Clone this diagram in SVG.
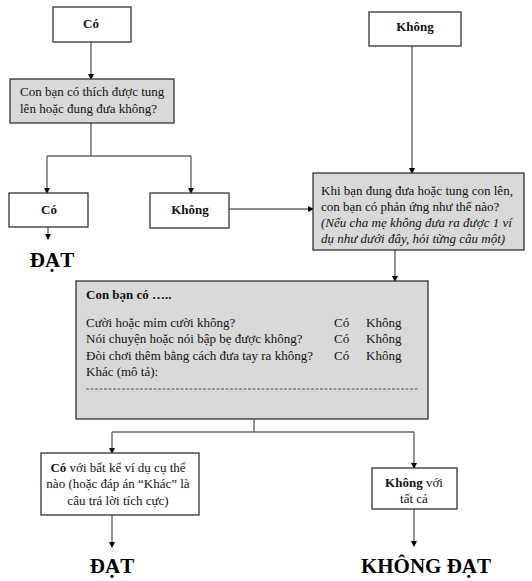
<svg xmlns="http://www.w3.org/2000/svg" width="532" height="581" viewBox="0 0 532 581">
<defs>
<marker id="ah" markerWidth="6" markerHeight="6" refX="5" refY="3" orient="auto" markerUnits="userSpaceOnUse">
<path d="M0,0 L6,3 L0,6 Z" fill="#000"/>
</marker>
<style>
.box{fill:#fff;stroke:#333;stroke-width:1.3}
.gbox{fill:#d9d9d9;stroke:#333;stroke-width:1.3}
.t{font-family:"Liberation Serif","Times New Roman",serif;font-size:13px;fill:#111}
.b{font-weight:bold}
.big{font-family:"Liberation Serif","Times New Roman",serif;font-size:21px;font-weight:bold;fill:#000}
.c{text-anchor:middle}
.ln{fill:none;stroke:#666;stroke-width:1.4}
.ar{marker-end:url(#ah)}
</style>
</defs>
<rect width="532" height="581" fill="#fff"/>
<g id="connectors">
<path class="ln ar" d="M91,42 V79"/>
<path class="ln" d="M91,123 V156 M47,156 H191"/>
<path class="ln ar" d="M47,156 V193"/>
<path class="ln ar" d="M191,156 V193"/>
<path class="ln ar" d="M48,227 V239"/>
<path class="ln ar" d="M229,209 H313"/>
<path class="ln ar" d="M412,46 V173"/>
<path class="ln ar" d="M395,250 V281"/>
<path class="ln" d="M254,419 V432 M112,432 H414"/>
<path class="ln ar" d="M112,432 V453"/>
<path class="ln ar" d="M414,432 V468"/>
<path class="ln ar" d="M112,515 V547"/>
<path class="ln ar" d="M414,509 V546"/>
</g>
<g id="n-co-top">
<rect class="box" x="53" y="7" width="78" height="35"/>
<text class="t b c" x="91" y="28">Có</text>
</g>
<g id="n-khong-top">
<rect class="box" x="369" y="12" width="92" height="34"/>
<text class="t b c" x="415" y="31">Không</text>
</g>
<g id="n-q1">
<rect class="gbox" x="10" y="79" width="164" height="44"/>
<text class="t" x="20" y="96">Con bạn có thích được tung</text>
<text class="t" x="20" y="113">lên hoặc đung đưa không?</text>
</g>
<g id="n-co2">
<rect class="box" x="9" y="193" width="79" height="34"/>
<text class="t b c" x="49" y="214">Có</text>
</g>
<g id="n-dat1">
<text class="big c" x="52" y="267">ĐẠT</text>
</g>
<g id="n-khong2">
<rect class="box" x="150" y="193" width="79" height="35"/>
<text class="t b c" x="190" y="214">Không</text>
</g>
<g id="n-q2">
<rect class="gbox" x="313" y="173" width="211" height="77"/>
<text class="t" x="321" y="195">Khi bạn đung đưa hoặc tung con lên,</text>
<text class="t" x="321" y="211">con bạn có phản ứng như thế nào?</text>
<text class="t" x="321" y="227" font-style="italic">(Nếu cha mẹ không đưa ra được 1 ví</text>
<text class="t" x="321" y="243" font-style="italic">dụ như dưới đây, hỏi từng câu một)</text>
</g>
<g id="n-q3">
<rect class="gbox" x="76" y="281" width="352" height="138"/>
<text class="t b" x="86" y="299">Con bạn có …..</text>
<text class="t" x="86" y="327">Cười hoặc mỉm cười không?</text>
<text class="t" x="86" y="343">Nói chuyện hoặc nói bập bẹ được không?</text>
<text class="t" x="86" y="360">Đòi chơi thêm bằng cách đưa tay ra không?</text>
<text class="t" x="86" y="376">Khác (mô tả):</text>
<text class="t" x="334" y="327">Có</text>
<text class="t" x="366" y="327">Không</text>
<text class="t" x="334" y="343">Có</text>
<text class="t" x="366" y="343">Không</text>
<text class="t" x="334" y="360">Có</text>
<text class="t" x="366" y="360">Không</text>
<line x1="86" y1="389" x2="418" y2="389" stroke="#555" stroke-width="1" stroke-dasharray="3,1.5"/>
</g>
<g id="n-co3">
<rect class="box" x="41" y="453" width="158" height="62"/>
<text class="t c" x="118" y="472"><tspan class="b">Có</tspan> với bất kể ví dụ cụ thể</text>
<text class="t c" x="118" y="488">nào (hoặc đáp án “Khác” là</text>
<text class="t c" x="118" y="505">câu trả lời tích cực)</text>
</g>
<g id="n-khong3">
<rect class="box" x="372" y="468" width="85" height="41"/>
<text class="t c" x="414" y="487"><tspan class="b">Không</tspan> với</text>
<text class="t c" x="414" y="503">tất cả</text>
</g>
<g id="n-dat2">
<text class="big c" x="112" y="573">ĐẠT</text>
</g>
<g id="n-khongdat">
<text class="big c" x="426" y="573">KHÔNG ĐẠT</text>
</g>
</svg>
